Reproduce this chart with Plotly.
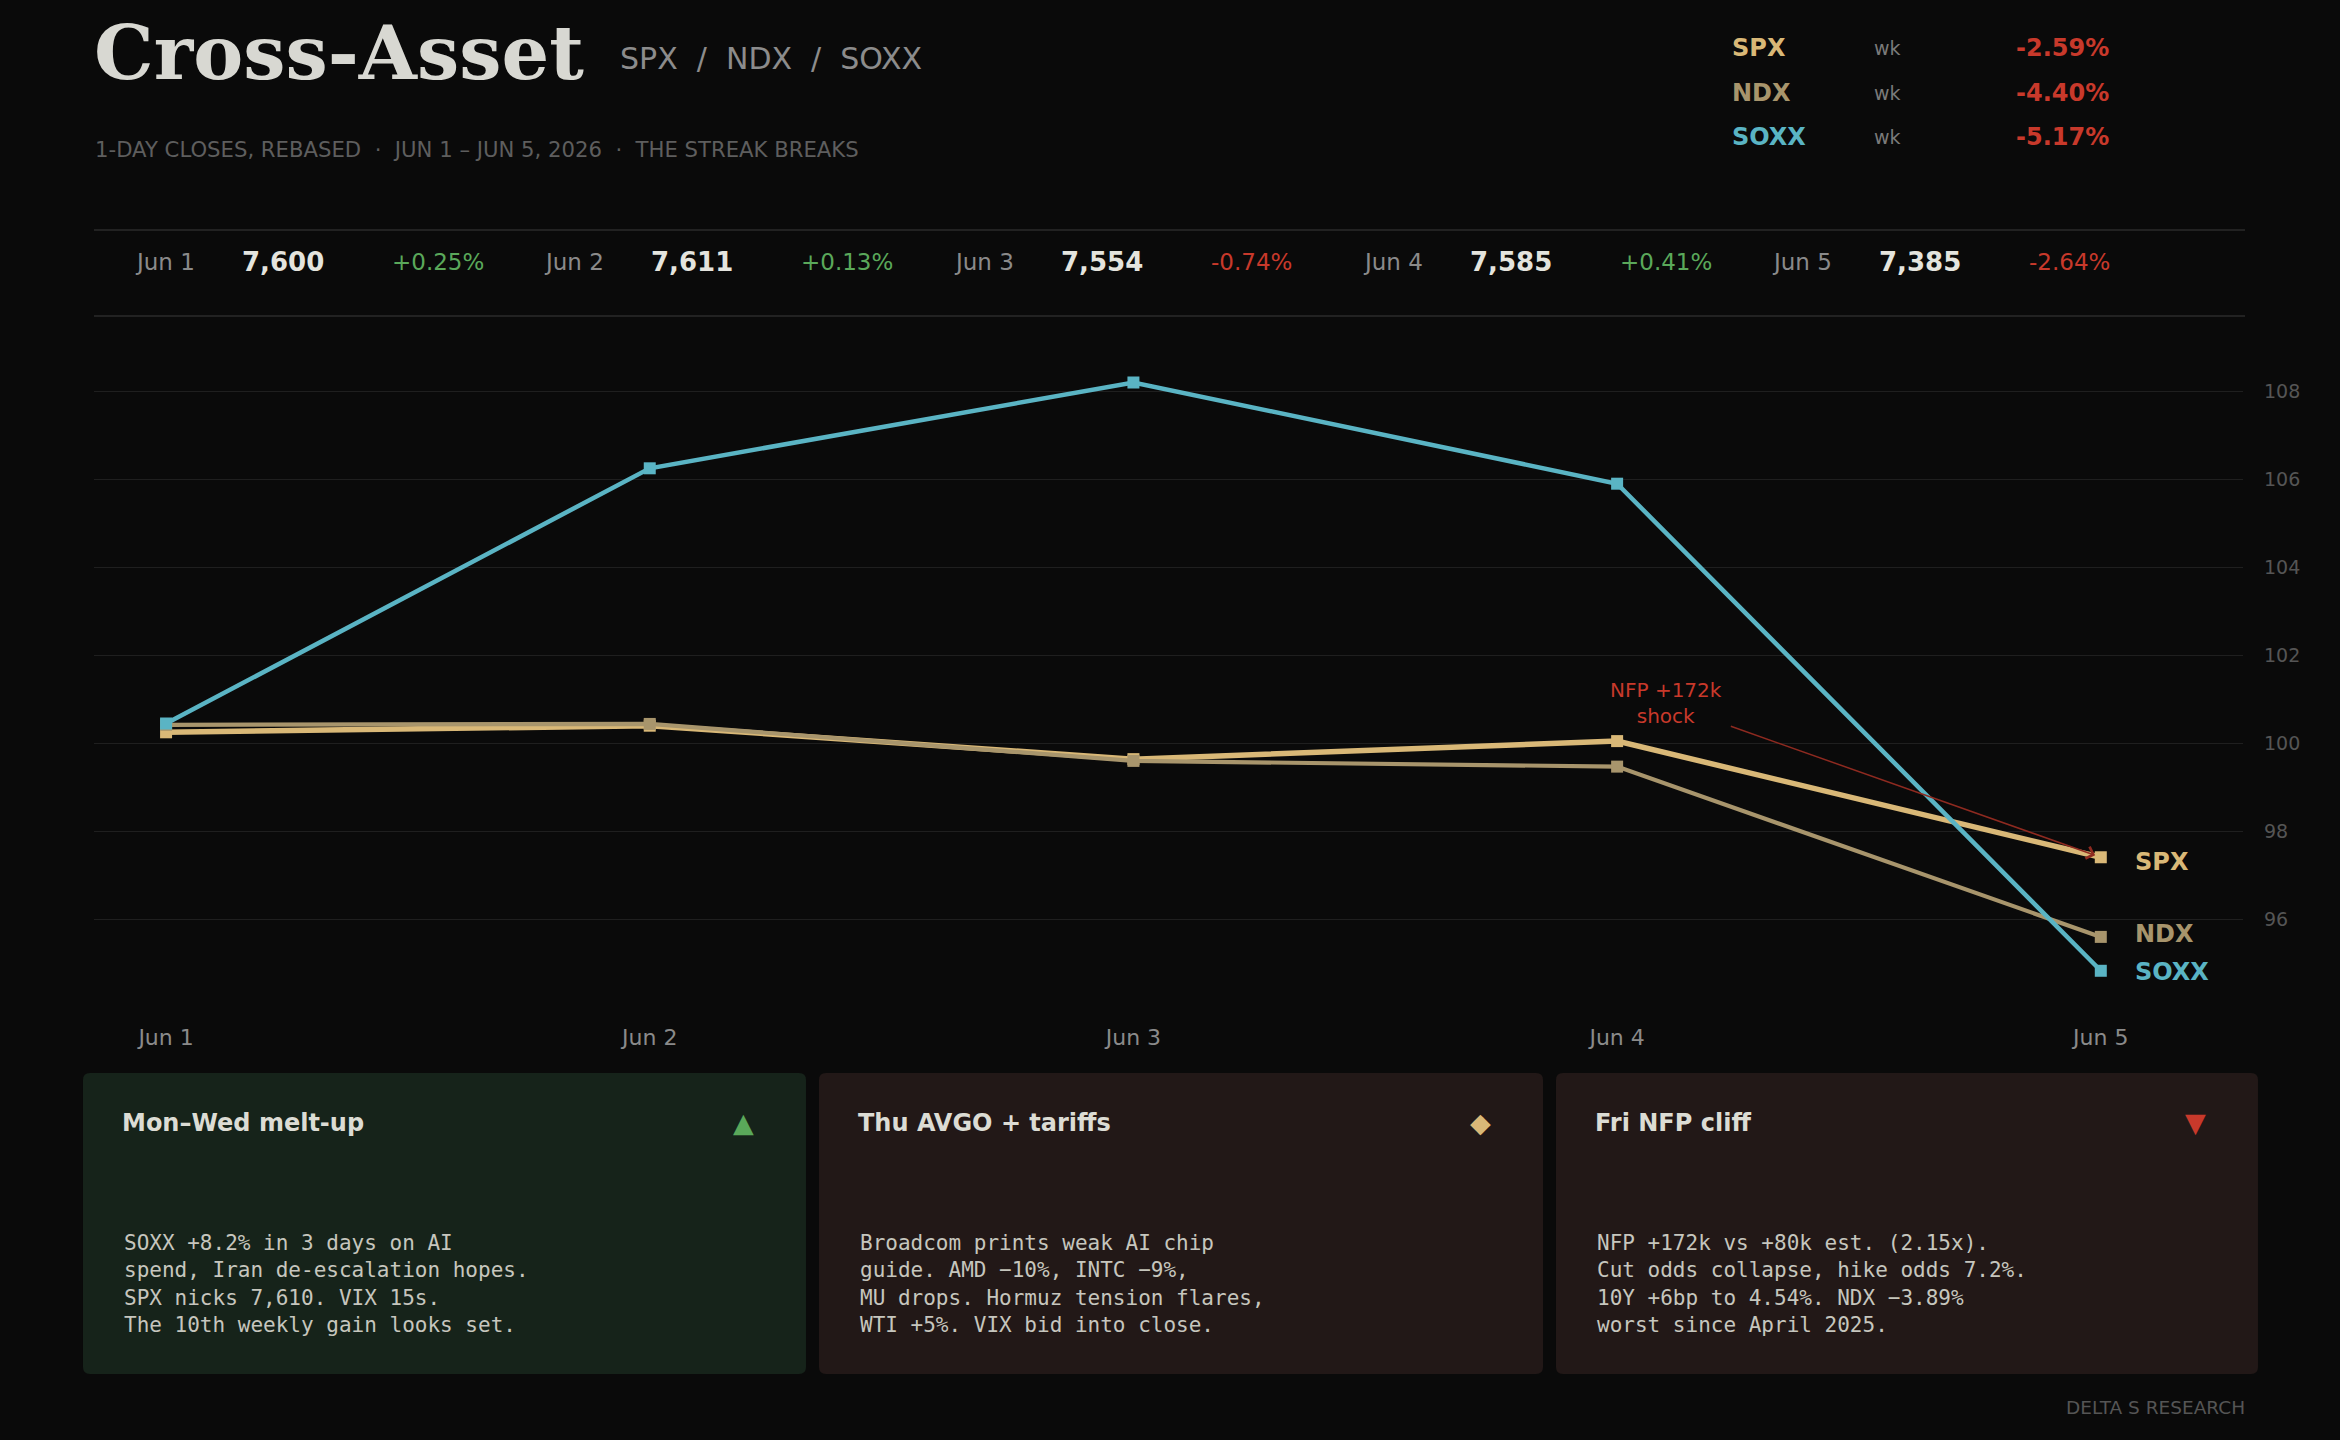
import plotly.graph_objects as go

# ---------------- data ----------------
days = ["Jun 1", "Jun 2", "Jun 3", "Jun 4", "Jun 5"]
spx_close = [7600, 7611, 7554, 7585, 7385]
spx_day_chg = [0.25, 0.13, -0.74, 0.41, -2.64]

spx = [100.25, 100.40, 99.64, 100.05, 97.41]
ndx = [100.42, 100.44, 99.60, 99.47, 95.60]
soxx = [100.45, 106.25, 108.20, 105.90, 94.83]

tickers = ["SPX", "NDX", "SOXX"]
week_chg = [-2.59, -4.40, -5.17]

y_ticks = [96, 98, 100, 102, 104, 106, 108]

card_titles = ["Mon\u2013Wed melt-up", "Thu AVGO + tariffs", "Fri NFP cliff"]
card_icons = ["\u25B2", "\u25C6", "\u25BC"]
card_bodies = [
    "SOXX +8.2% in 3 days on AI<br>spend, Iran de-escalation hopes.<br>SPX nicks 7,610. VIX 15s.<br>The 10th weekly gain looks set.",
    "Broadcom prints weak AI chip<br>guide. AMD \u221210%, INTC \u22129%,<br>MU drops. Hormuz tension flares,<br>WTI +5%. VIX bid into close.",
    "NFP +172k vs +80k est. (2.15x).<br>Cut odds collapse, hike odds 7.2%.<br>10Y +6bp to 4.54%. NDX \u22123.89%<br>worst since April 2025.",
]

# ---------------- style ----------------
W, H = 2340, 1440
BG = "#0a0a0a"
C_SPX = "#d9b877"
C_NDX = "#a8956c"
C_SOXX = "#5ab4c4"
RED = "#c8392b"
GREEN = "#5aa85a"
GRID = "#1f1f1f"
SANS = "DejaVu Sans"
MONO = "DejaVu Sans Mono"
SERIF = "DejaVu Serif"
series_colors = [C_SPX, C_NDX, C_SOXX]
card_bg = ["#16231a", "#221817", "#221817"]
icon_colors = [GREEN, C_SPX, RED]


def px(x):
    return x / W


def py(y):
    return 1 - y / H


# plot area in pixels
PL, PR, PT, PB = 94, 2243, 330, 1022
Y100, PPU = 743.3, 44.0  # pixel of 100 and pixels per unit
y_lo = 100 - (PB - Y100) / PPU
y_hi = 100 + (Y100 - PT) / PPU

fig = go.Figure()

for name, vals, col, lw in [("SPX", spx, C_SPX, 5.5), ("NDX", ndx, C_NDX, 4.2), ("SOXX", soxx, C_SOXX, 4.5)]:
    fig.add_trace(go.Scatter(
        x=days, y=vals, mode="lines+markers", name=name,
        line=dict(color=col, width=lw),
        marker=dict(symbol="square", size=12, color=col),
        showlegend=False, hoverinfo="skip",
    ))

ann = []
shapes = []

# title block
ann.append(dict(xref="paper", yref="paper", x=px(92), y=py(53), xanchor="left", yanchor="middle",
                text="Cross-Asset", showarrow=False,
                font=dict(family=SERIF, size=75, color="#d8d8d2", weight="bold")))
ann.append(dict(xref="paper", yref="paper", x=px(618), y=py(59), xanchor="left", yanchor="middle",
                text="SPX\u00a0\u00a0/\u00a0\u00a0NDX\u00a0\u00a0/\u00a0\u00a0SOXX", showarrow=False,
                font=dict(family=SANS, size=30, color="#8c8c8c")))
ann.append(dict(xref="paper", yref="paper", x=px(93), y=py(150), xanchor="left", yanchor="middle",
                text="1-DAY CLOSES, REBASED\u00a0\u00a0\u00b7\u00a0\u00a0JUN 1 \u2013 JUN 5, 2026\u00a0\u00a0\u00b7\u00a0\u00a0THE STREAK BREAKS",
                showarrow=False, font=dict(family=SANS, size=21.2, color="#5e5e5e")))

# top-right weekly table
for i, (t, c, col) in enumerate(zip(tickers, week_chg, series_colors)):
    yy = py(48 + 44.5 * i)
    ann.append(dict(xref="paper", yref="paper", x=px(1730), y=yy, xanchor="left", yanchor="middle",
                    text=t, showarrow=False, font=dict(family=SANS, size=24, color=col, weight="bold")))
    ann.append(dict(xref="paper", yref="paper", x=px(1872), y=yy, xanchor="left", yanchor="middle",
                    text="wk", showarrow=False, font=dict(family=SANS, size=19, color="#7a7a7a")))
    ann.append(dict(xref="paper", yref="paper", x=px(2111), y=yy, xanchor="right", yanchor="middle",
                    text=f"{c:+.2f}%".replace("+-", "-"), showarrow=False,
                    font=dict(family=SANS, size=24, color=RED if c < 0 else GREEN, weight="bold")))

# stats strip
for yline in (230, 316):
    shapes.append(dict(type="line", xref="paper", yref="paper", x0=px(94), x1=px(2245), y0=py(yline), y1=py(yline),
                       line=dict(color="#222222", width=2)))
for i, (d, cl, ch) in enumerate(zip(days, spx_close, spx_day_chg)):
    x0 = 133 + 409.3 * i
    yy = py(262)
    ann.append(dict(xref="paper", yref="paper", x=px(x0), y=yy, xanchor="left", yanchor="middle",
                    text=d, showarrow=False, font=dict(family=SANS, size=23, color="#8a8a8a")))
    ann.append(dict(xref="paper", yref="paper", x=px(x0 + 107), y=yy, xanchor="left", yanchor="middle",
                    text=f"{cl:,}", showarrow=False, font=dict(family=SANS, size=26, color="#e4e4de", weight="bold")))
    ann.append(dict(xref="paper", yref="paper", x=px(x0 + 257), y=yy, xanchor="left", yanchor="middle",
                    text=f"{ch:+.2f}%", showarrow=False,
                    font=dict(family=SANS, size=23, color=GREEN if ch >= 0 else RED)))

# end labels
for t, vals, col, ys in zip(tickers, [spx, ndx, soxx], series_colors, [-5, 3, -1.5]):
    ann.append(dict(xref="x", yref="y", x=days[-1], y=vals[-1], xanchor="left", yanchor="middle",
                    xshift=32, yshift=ys, text=t, showarrow=False,
                    font=dict(family=SANS, size=24, color=col, weight="bold")))

# NFP annotation
ann.append(dict(xref="x", yref="y", x=days[-1], y=spx[-1], ax=-435, ay=-154,
                text="NFP +172k<br>shock", showarrow=True, arrowhead=4, arrowsize=1.6, arrowwidth=1.5,
                arrowcolor="#8e2a20", standoff=6, startstandoff=8,
                font=dict(family=SANS, size=20, color=RED)))

# cards
def rrect(x0, y0, x1, y1, r):
    pts = [
        ("M", [(x0 + r, y0)]), ("L", [(x1 - r, y0)]), ("Q", [(x1, y0), (x1, y0 + r)]),
        ("L", [(x1, y1 - r)]), ("Q", [(x1, y1), (x1 - r, y1)]), ("L", [(x0 + r, y1)]),
        ("Q", [(x0, y1), (x0, y1 - r)]), ("L", [(x0, y0 + r)]), ("Q", [(x0, y0), (x0 + r, y0)]),
    ]
    s = ""
    for cmd, ps in pts:
        s += cmd + " " + " ".join(f"{px(a):.6f},{py(b):.6f}" for a, b in ps) + " "
    return s + "Z"


card_x = [(83, 806), (819, 1543), (1556, 2258)]
CT, CB = 1073, 1374
for (x0, x1), bgc, ttl, ico, icol, body in zip(card_x, card_bg, card_titles, card_icons, icon_colors, card_bodies):
    shapes.append(dict(type="path", xref="paper", yref="paper", path=rrect(x0, CT, x1, CB, 7),
                       fillcolor=bgc, line=dict(width=0), layer="below"))
    ann.append(dict(xref="paper", yref="paper", x=px(x0 + 37), y=py(1123), xanchor="left", yanchor="middle",
                    text=ttl, showarrow=False, font=dict(family=SANS, size=24, color="#dcdcd4", weight="bold")))
    ann.append(dict(xref="paper", yref="paper", x=px(x1 - 63), y=py(1122), xanchor="center", yanchor="middle",
                    text=ico, showarrow=False, font=dict(family=SANS, size=27, color=icol)))
    ann.append(dict(xref="paper", yref="paper", x=px(x0 + 39), y=py(1284), xanchor="left", yanchor="middle",
                    text=body, align="left", showarrow=False,
                    font=dict(family=MONO, size=21, color="#c6c6be")))

ann.append(dict(xref="paper", yref="paper", x=px(2247), y=py(1407), xanchor="right", yanchor="middle",
                text="DELTA S RESEARCH", showarrow=False, font=dict(family=SANS, size=18.5, color="#555555")))

fig.update_layout(
    width=W, height=H, margin=dict(l=0, r=0, t=0, b=0),
    paper_bgcolor=BG, plot_bgcolor=BG,
    font=dict(family=SANS, color="#8a8a8a"),
    annotations=ann, shapes=shapes,
    xaxis=dict(domain=[px(PL), px(PR)], type="category", range=[-0.149, 4.294],
               showgrid=False, zeroline=False, showline=False, ticks="",
               tickfont=dict(family=SANS, size=22, color="#8a8a8a"), fixedrange=True),
    yaxis=dict(domain=[py(PB), py(PT)], range=[y_lo, y_hi], side="right",
               tickvals=y_ticks, showgrid=True, gridcolor=GRID, gridwidth=1,
               zeroline=False, showline=False, ticks="", ticklabelstandoff=20,
               tickfont=dict(family=SANS, size=19, color="#555555"), fixedrange=True),
    showlegend=False,
)

fig.write_html("out.html")
